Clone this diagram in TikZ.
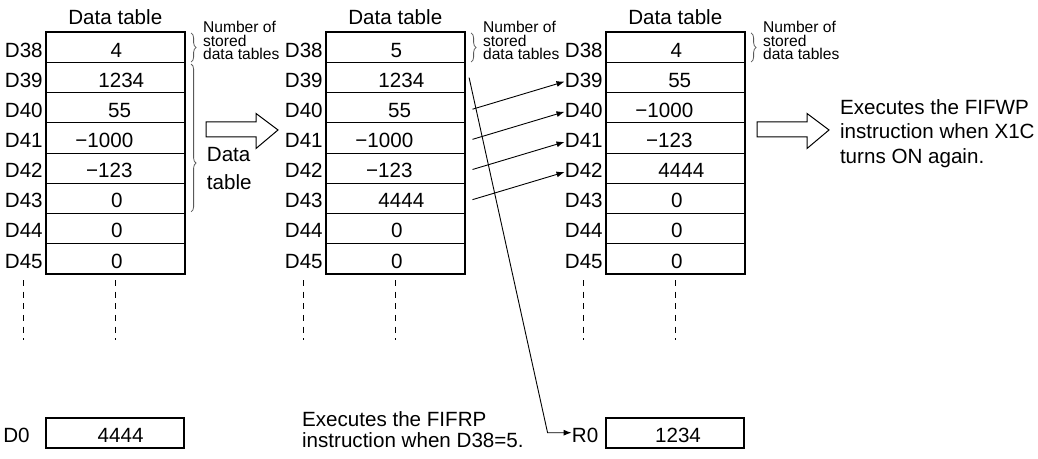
\documentclass[tikz,border=0pt]{standalone}
\usepackage{fontspec}
\setmainfont{Liberation Sans}
\usetikzlibrary{positioning, calc, decorations.pathreplacing, arrows.meta}
\tikzset{
	cell/.style     ={rectangle, draw=black, line width=0.5pt, minimum width=69.3pt, minimum height=15.075pt, inner sep=0pt, text height=9.6pt, text depth=0pt},
	regbox/.style   ={cell, line width=1pt},
	tbloutline/.style={draw=black, line width=1pt},
	reglbl/.style   ={inner sep=0pt, text height=9.6pt, text depth=0pt},
	tbltitle/.style ={inner sep=0pt},
	notetxt/.style  ={inner sep=0pt, align=left, font=\fontsize{7.8}{6.8}\selectfont},
	bracegr/.style  ={decorate, decoration={brace, amplitude=2.5pt}, draw=black!65, line width=0.4pt},
	dotline/.style  ={dash pattern=on 3pt off 2.8pt, line width=0.5pt},
	mv/.style       ={-{Latex[length=4pt, width=3pt]}, line width=0.45pt},
	hollow/.style   ={draw=black, line width=0.5pt, fill=white},
	remark/.style   ={inner sep=0pt, align=left, anchor=west},
}
% value in a cell, nudged sideways by #2 pt
\newcommand{\cellval}[2]{\makebox[0pt]{\hspace{#2pt}\hspace{#2pt}#1}}

\begin{document}
\begin{tikzpicture}[x=0.5pt, y=-0.5pt, font=\fontsize{10.3}{12}\selectfont]
	\useasboundingbox (0,0) rectangle (1038,459);
	% the three data tables D38..D45
	\foreach \tb/\xl/\vals in {A/46/{4/0.5,1234/3,55/2.2,−1000/-5.5,−123/-3,0/0.8,0/0.8,0/0.8},
	                          B/326/{5/0.5,1234/3,55/2.2,−1000/-5.5,−123/-3,4444/3,0/0.8,0/0.8},
	                          C/606/{4/0.5,55/2.2,−1000/-5.5,−123/-3,4444/3,0/0.8,0/0.8,0/0.8}}{
		\foreach \v/\dx [count=\rw from 38] in \vals {
			\node[cell] (\tb\rw) at ({\xl+69.3},{47.5+30.15*(\rw-38)}) {\cellval{\v}{\dx}};
			\node[reglbl, left=1.2pt of \tb\rw] (l\tb\rw) {D\rw};
		}
		\draw[tbloutline] (\tb38.north west) rectangle (\tb45.south east);
		\node[tbltitle, above=3.2pt of \tb38] (t\tb) {Data table};
		\draw[bracegr] ([xshift=3pt,yshift=-0.5pt]\tb38.north east) -- ([xshift=3pt,yshift=0.5pt]\tb38.south east);
		\node[notetxt, anchor=north west] (n\tb) at ([xshift=8.8pt,yshift=5.6pt]\tb38.north east) {Number of\\stored\\data tables};
		\draw[dotline] (l\tb45.center |- \tb45.south) ++(0,6) -- ++(0,60);
		\draw[dotline] (\tb45.south) ++(0,6) -- ++(0,60);
	}
	% data table brace of the first table
	\draw[bracegr, decoration={brace, amplitude=2.5pt, aspect=0.67}] ([xshift=3pt,yshift=-1pt]A39.north east) -- ([xshift=3pt,yshift=1pt]A43.south east);
	\node[remark, font=\fontsize{10.3}{14}\selectfont] (dtA) at ([xshift=10.7pt]A42.east) {Data\\table};
	% hollow arrows
	\foreach \ax/\n in {206/1, 757/2}
	\draw[hollow] (\ax,122) -- ++(50,0) -- ++(0,-8.5) -- ++(22,16.5) coordinate (tip\n) -- ++(-22,18.5) -- ++(0,-11.5) -- ++(-50,0) -- cycle;
	\node[remark, font=\fontsize{10.3}{12.25}\selectfont] (fifwp) at ([xshift=5.3pt,yshift=-1.7pt]tip2) {Executes the FIFWP\\instruction when X1C\\turns ON again.};
	% registers D0 and R0
	\node[regbox] (D0box) at (115,432.7) {\cellval{4444}{2.8}};
	\node[reglbl, left=7.3pt of D0box] (lD0) {D0};
	\node[regbox] (R0box) at (675,432.7) {\cellval{1234}{1.5}};
	\node[reglbl, left=3pt of R0box] (lR0) {R0};
	\node[remark, font=\fontsize{10.3}{10.5}\selectfont] (fifrp) at (301.7,429.7) {Executes the FIFRP\\instruction when D38=5.};
	% shifting the data up by one
	\foreach \rw [evaluate=\rw as \pr using int(\rw-1)] in {40,...,43}
	\draw[mv] ([xshift=3.7pt,yshift=-0.7pt]B\rw.east) -- ([yshift=-2pt]lC\pr.west);
	\coordinate (bend) at ([xshift=-12pt]lR0.west);
	\draw[mv] ([xshift=2pt]B39.east) -- (bend) -- (lR0.west);
\end{tikzpicture}
\end{document}
